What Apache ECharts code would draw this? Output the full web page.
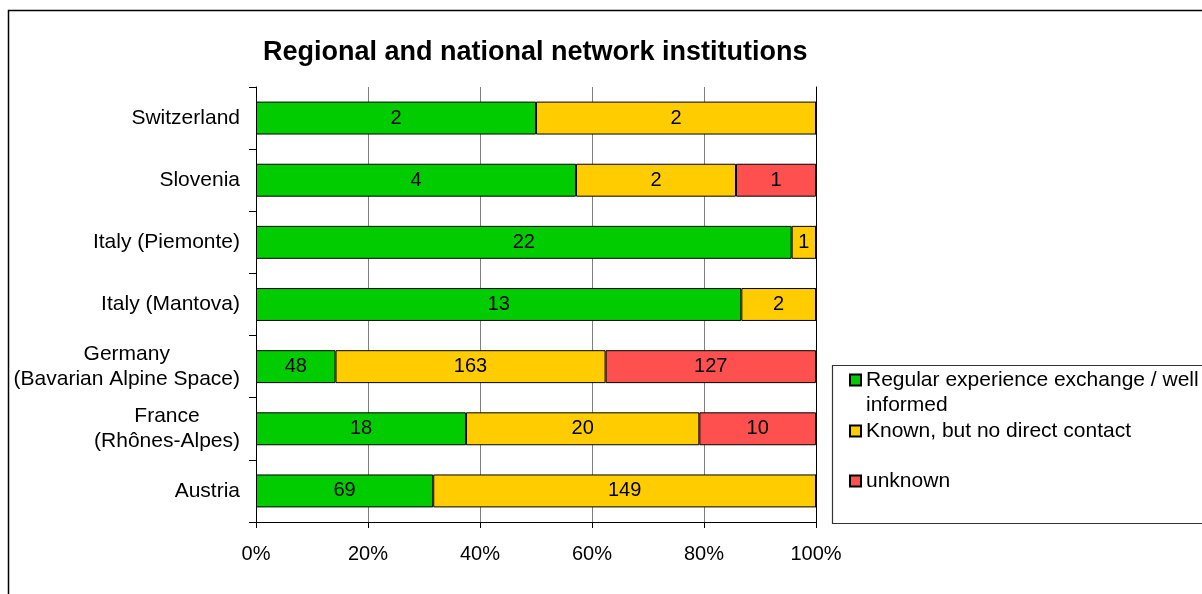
<!DOCTYPE html>
<html>
<head>
<meta charset="utf-8">
<script src="https://cdn.jsdelivr.net/npm/echarts@6/dist/echarts.min.js"></script>
<style>
html,body{margin:0;padding:0;background:#fff;}
#chart{width:1202px;height:594px;}
</style>
</head>
<body>
<div id="chart"></div>
<script>
var titleText = 'Regional and national network institutions';
var categories = ['Austria', 'France\n(Rhônes-Alpes)', 'Germany\n(Bavarian Alpine Space)', 'Italy (Mantova)', 'Italy (Piemonte)', 'Slovenia', 'Switzerland'];
var seriesNames = ['Regular experience exchange / well informed', 'Known, but no direct contact', 'unknown'];
var regular = [69, 18, 48, 13, 22, 4, 2];
var known = [149, 20, 163, 2, 1, 2, 2];
var unknown = [0, 10, 127, 0, 0, 1, 0];
var xTicks = [0, 20, 40, 60, 80, 100];
var colors = ['#00CC00', '#FFCC00', '#FF5050'];

var FONT = 'Arial, "Liberation Sans", sans-serif';
var counts = [regular, known, unknown];
var totals = categories.map(function (c, i) { return regular[i] + known[i] + unknown[i]; });

function makeSeries(k) {
  return {
    name: seriesNames[k],
    type: 'bar',
    stack: 'total',
    barCategoryGap: '47%',
    itemStyle: { color: colors[k], borderColor: '#000', borderWidth: 1 },
    label: {
      show: true,
      position: 'inside',
      color: '#000',
      fontSize: 20,
      fontFamily: FONT,
      formatter: function (p) {
        var v = counts[k][p.dataIndex];
        return v ? String(v) : '';
      }
    },
    emphasis: { disabled: true },
    data: counts[k].map(function (v, i) { return v / totals[i] * 100; })
  };
}

function legendItem(idx, top, fmt) {
  var l = {
    data: [seriesNames[idx]],
    orient: 'vertical',
    left: 849,
    top: top,
    padding: 0,
    itemWidth: 11,
    itemHeight: 11,
    icon: 'rect',
    selectedMode: false,
    textStyle: { fontSize: 21, lineHeight: 25, color: '#000', fontFamily: FONT }
  };
  if (fmt) l.formatter = fmt;
  return l;
}

var chart = echarts.init(document.getElementById('chart'), null, { renderer: 'canvas' });
chart.setOption({
  animation: false,
  backgroundColor: '#fff',
  textStyle: { fontFamily: FONT },
  title: {
    text: titleText,
    left: 263,
    top: 39,
    padding: 0,
    textStyle: { fontSize: 27, fontWeight: 'bold', color: '#000', fontFamily: FONT }
  },
  grid: { left: 256, right: 386, top: 87, bottom: 72, containLabel: false },
  xAxis: {
    type: 'value',
    min: xTicks[0],
    max: xTicks[xTicks.length - 1],
    interval: 20,
    axisLine: { show: true, lineStyle: { color: '#000', width: 1 } },
    axisTick: { show: true, length: 6, lineStyle: { color: '#000' } },
    axisLabel: { formatter: '{value}%', fontSize: 20, color: '#000', margin: 22, fontFamily: FONT },
    splitLine: { show: true, lineStyle: { color: '#808080', width: 1 } }
  },
  yAxis: [{
    type: 'category',
    data: categories,
    axisLine: { show: true, lineStyle: { color: '#000', width: 1 } },
    axisTick: { show: true, length: 7, lineStyle: { color: '#000' } },
    axisLabel: {
      margin: 16,
      color: '#000',
      fontSize: 21,
      lineHeight: 25,
      fontFamily: FONT,
      formatter: function (v) {
        return v.split('\n').map(function (s) { return '{c|' + s + '}'; }).join('\n');
      },
      rich: { c: { align: 'center', fontSize: 21, lineHeight: 25, color: '#000', fontFamily: FONT } }
    }
  }, {
    type: 'category',
    data: categories,
    position: 'right',
    axisLine: { show: true, lineStyle: { color: '#000', width: 1 } },
    axisTick: { show: false },
    axisLabel: { show: false }
  }],
  legend: [
    legendItem(0, 342.5, function () { return '\u00a0\nRegular experience exchange / well\ninformed'; }),
    legendItem(1, 418.5),
    legendItem(2, 468.5)
  ],
  graphic: [{
    type: 'rect',
    silent: true,
    shape: { x: 8.5, y: 10.5, width: 1400, height: 800 },
    style: { fill: 'none', stroke: '#000', lineWidth: 1.5 },
    z: 100
  }, {
    type: 'rect',
    silent: true,
    shape: { x: 832.5, y: 365.5, width: 500, height: 158 },
    style: { fill: 'none', stroke: '#333', lineWidth: 1.2 },
    z: 100
  }],
  series: [makeSeries(0), makeSeries(1), makeSeries(2)]
});
</script>
</body>
</html>
